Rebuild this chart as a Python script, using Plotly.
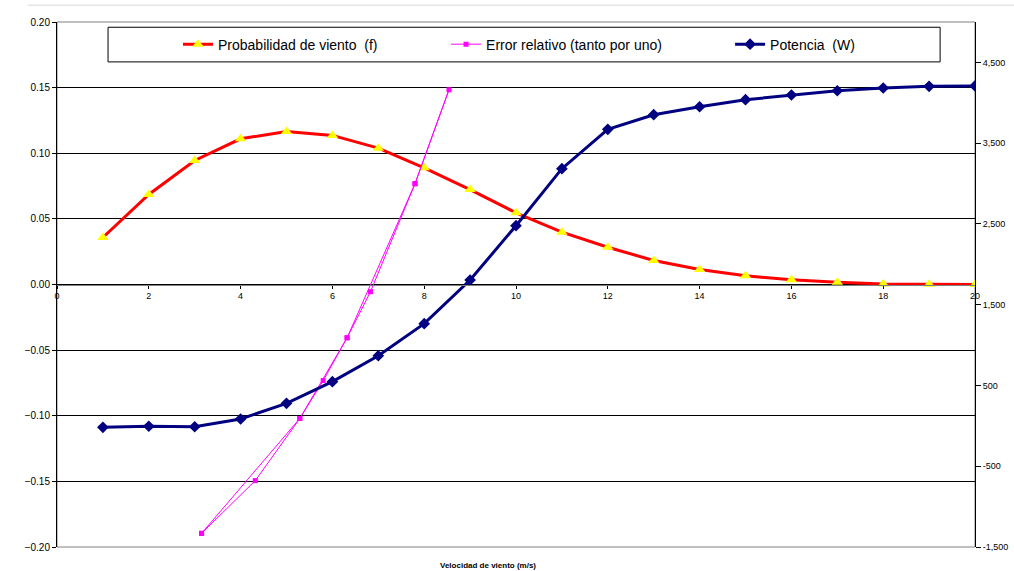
import plotly.graph_objects as go

# datos
velocidad = list(range(1, 21))
probabilidad = [0.0358, 0.0686, 0.0945, 0.1110, 0.1166, 0.1136, 0.1039, 0.0889, 0.0723, 0.0546,
                0.0399, 0.0284, 0.0183, 0.0114, 0.0066, 0.0036, 0.0018, 0.0004, 0.0002, 0.0000]
potencia = [-18, -5, -11, 85, 279, 547, 868, 1265, 1806, 2478,
            3184, 3671, 3852, 3951, 4038, 4096, 4149, 4183, 4204, 4208]

# la serie de error va y vuelve (ida por todos los puntos, vuelta por los impares)
error_x = [3.15, 4.32, 5.29, 5.80, 6.32, 6.83, 7.80, 8.54, 7.80, 6.32, 5.29, 3.15]
error_y = [-0.1896, -0.1494, -0.1021, -0.0732, -0.0406, -0.0055, 0.0768, 0.1484,
           0.0768, -0.0406, -0.1021, -0.1896]

y2_ticks = [-1500, -500, 500, 1500, 2500, 3500, 4500]
y2_labels = ["-1,500", "-500", "500", "1,500", "2,500", "3,500", "4,500"]

fig = go.Figure()
fig.add_trace(go.Scatter(x=velocidad, y=probabilidad, mode="lines+markers",
                         name="Probabilidad de viento  (f)", legend="legend",
                         line=dict(color="#ff0000", width=3),
                         marker=dict(symbol="triangle-up", size=10, color="#ffff00",
                                     line=dict(width=0))))
fig.add_trace(go.Scatter(x=error_x, y=error_y, mode="lines+markers",
                         name="Error relativo (tanto por uno)", legend="legend2",
                         line=dict(color="#ff00ff", width=1),
                         marker=dict(symbol="square", size=5, color="#ff00ff")))
fig.add_trace(go.Scatter(x=velocidad, y=potencia, mode="lines+markers", yaxis="y2",
                         name="Potencia  (W)", legend="legend3",
                         line=dict(color="#000080", width=3),
                         marker=dict(symbol="diamond", size=9, color="#000080")))

leg = dict(orientation="h", y=0.957, xanchor="left", yanchor="middle",
           bgcolor="rgba(0,0,0,0)", borderwidth=0, font=dict(size=14))

fig.update_layout(
    width=1014, height=571,
    margin=dict(l=57, r=39, t=22, b=24),
    paper_bgcolor="white", plot_bgcolor="white",
    font=dict(family="Liberation Sans, Arial, sans-serif", size=9, color="black"),
    xaxis=dict(range=[0, 20], dtick=2, anchor="free", position=0.5, automargin=False,
               showline=True, linecolor="#808080", linewidth=1,
               ticks="outside", ticklen=3, tickcolor="black",
               showgrid=False, zeroline=False, tickfont=dict(size=9)),
    yaxis=dict(range=[-0.2, 0.2], dtick=0.05, tickformat=".2f", automargin=False,
               showgrid=True, gridcolor="#000000", gridwidth=1,
               showline=True, linecolor="black", linewidth=1,
               ticks="outside", ticklen=4, tickcolor="black", zeroline=False,
               tickfont=dict(size=10)),
    yaxis2=dict(overlaying="y", side="right", range=[-1500, 5000], automargin=False,
                tickvals=y2_ticks, ticktext=y2_labels,
                showgrid=False, showline=True, linecolor="black", linewidth=1,
                ticks="outside", ticklen=5, tickcolor="black", zeroline=False,
                tickfont=dict(size=9)),
    legend=dict(leg, x=0.1318),
    legend2=dict(leg, x=0.4238),
    legend3=dict(leg, x=0.7332),
    showlegend=True,
)

# caja de la leyenda, borde del area de trazado y linea superior del grafico
fig.add_shape(type="rect", xref="paper", yref="paper", x0=0.0556, x1=0.962, y0=0.924, y1=0.990,
              line=dict(color="black", width=1), fillcolor="white", layer="below")
fig.add_shape(type="rect", xref="paper", yref="paper", x0=0, x1=1, y0=0, y1=1,
              line=dict(color="#808080", width=1), layer="below")
fig.add_shape(type="line", xref="paper", yref="paper", x0=-0.032, x1=1.05, y0=1.032, y1=1.032,
              line=dict(color="#d9d9d9", width=1))

fig.add_annotation(text="<b>Velocidad de viento (m/s)</b>", xref="paper", yref="paper",
                   x=0.4695, y=-0.0343, showarrow=False, font=dict(size=8),
                   xanchor="center", yanchor="middle")

# quitar el margen del body para que la figura ocupe toda la ventana
fig.write_html("out.html", config={"displayModeBar": False},
               post_script="document.body.style.margin='0';")
